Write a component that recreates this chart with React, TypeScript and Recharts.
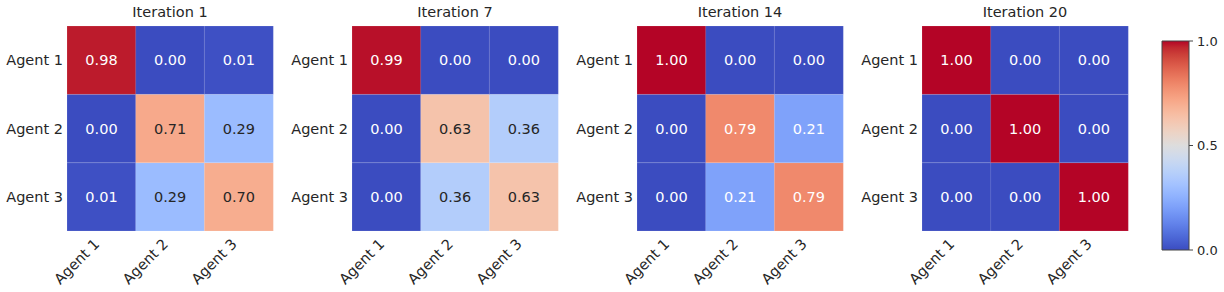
import { Bar, BarChart, Cell, LabelList, XAxis, YAxis } from "recharts";

const AGENTS = ["Agent 1", "Agent 2", "Agent 3"];
const ITERATIONS = ["Iteration 1", "Iteration 7", "Iteration 14", "Iteration 20"];

// rows = agent i, cols = agent j
const ITER_1 = [
  [0.98, 0.0, 0.01],
  [0.0, 0.71, 0.29],
  [0.01, 0.29, 0.7],
];
const ITER_7 = [
  [0.99, 0.0, 0.0],
  [0.0, 0.63, 0.36],
  [0.0, 0.36, 0.63],
];
const ITER_14 = [
  [1.0, 0.0, 0.0],
  [0.0, 0.79, 0.21],
  [0.0, 0.21, 0.79],
];
const ITER_20 = [
  [1.0, 0.0, 0.0],
  [0.0, 1.0, 0.0],
  [0.0, 0.0, 1.0],
];
const MATRICES = [ITER_1, ITER_7, ITER_14, ITER_20];
const CBAR_TICKS = [0, 0.5, 1];

// matplotlib coolwarm, 33 samples
const COOLWARM = [
  [59, 76, 192], [68, 90, 204], [77, 104, 215], [87, 117, 225], [98, 130, 234],
  [108, 142, 241], [119, 154, 247], [130, 165, 251], [141, 176, 254], [152, 185, 255],
  [163, 194, 255], [174, 201, 253], [184, 208, 249], [194, 213, 244], [204, 217, 238],
  [213, 219, 230], [221, 221, 221], [229, 216, 209], [236, 211, 197], [241, 204, 185],
  [245, 196, 173], [247, 187, 160], [247, 177, 148], [247, 166, 135], [244, 154, 123],
  [241, 141, 111], [236, 127, 99], [229, 112, 88], [222, 96, 77], [213, 80, 66],
  [203, 62, 56], [192, 40, 47], [180, 4, 38],
];

const TEXT = "#262626";
const FONT = "'DejaVu Sans', sans-serif";

function rgbAt(v: number) {
  const t = Math.max(0, Math.min(1, v)) * (COOLWARM.length - 1);
  const i = Math.min(COOLWARM.length - 2, Math.floor(t));
  const f = t - i;
  return COOLWARM[i].map((c, k) => c + (COOLWARM[i + 1][k] - c) * f);
}

function color(v: number) {
  const [r, g, b] = rgbAt(v).map(Math.round);
  return `rgb(${r},${g},${b})`;
}

function textColor(v: number) {
  const lin = rgbAt(v).map((c) => {
    const s = c / 255;
    return s <= 0.03928 ? s / 12.92 : Math.pow((s + 0.055) / 1.055, 2.4);
  });
  const lum = 0.2126 * lin[0] + 0.7152 * lin[1] + 0.0722 * lin[2];
  return lum > 0.408 ? TEXT : "#fff";
}

function XTick({ x, y, payload }: any) {
  return (
    <text
      x={x - 1}
      y={y + 6}
      transform={`rotate(-45 ${x - 1} ${y + 6})`}
      textAnchor="end"
      fontSize={14.5}
      fontFamily={FONT}
      fill={TEXT}
    >
      {payload.value}
    </text>
  );
}

function Heatmap({ title, matrix, left }: { title: string; matrix: number[][]; left: number }) {
  const data = AGENTS.map((a, j) => ({
    col: a,
    r1: 1,
    r2: 1,
    r3: 1,
    v1: matrix[0][j],
    v2: matrix[1][j],
    v3: matrix[2][j],
  }));
  // stacked bottom-up: Agent 3 row first
  const rows = [3, 2, 1];
  return (
    <div style={{ position: "absolute", left, top: 0, width: 285, height: 292 }}>
      <div
        style={{
          position: "absolute",
          left: 67,
          width: 206,
          top: 3,
          lineHeight: "18px",
          textAlign: "center",
          fontSize: 14.5,
          fontFamily: FONT,
          color: TEXT,
        }}
      >
        {title}
      </div>
      <BarChart
        width={285}
        height={292}
        data={data}
        margin={{ top: 26, right: 12, bottom: 0, left: 7 }}
        barCategoryGap={0}
        barGap={0}
      >
        <XAxis
          dataKey="col"
          axisLine={false}
          tickLine={false}
          height={61}
          interval={0}
          tick={<XTick />}
        />
        <YAxis
          type="number"
          domain={[0, 3]}
          ticks={[0.5, 1.5, 2.5]}
          tickFormatter={(v) => AGENTS[2 - Math.floor(v)]}
          axisLine={false}
          tickLine={false}
          tickSize={0}
          tickMargin={4}
          width={60}
          tick={{ fontSize: 14.5, fontFamily: FONT, fill: TEXT }}
        />
        {rows.map((r) => (
          <Bar
            key={r}
            dataKey={`r${r}`}
            stackId="m"
            stroke="#fff"
            strokeWidth={0.5}
            strokeOpacity={0.25}
            isAnimationActive={false}
          >
            {data.map((d: any, i) => (
              <Cell key={i} fill={color(d[`v${r}`])} />
            ))}
            <LabelList
              dataKey={`v${r}`}
              content={(p: any) => (
                <text
                  x={p.x + p.width / 2}
                  y={p.y + p.height / 2}
                  dy="0.36em"
                  textAnchor="middle"
                  fontSize={14.5}
                  fontFamily={FONT}
                  fill={textColor(Number(p.value))}
                >
                  {Number(p.value).toFixed(2)}
                </text>
              )}
            />
          </Bar>
        ))}
      </BarChart>
    </div>
  );
}

function ColorBar() {
  const data = [{ k: "cbar", v: 1 }];
  return (
    <div style={{ position: "absolute", left: 1140, top: 0 }}>
      <BarChart
        width={84}
        height={292}
        data={data}
        margin={{ top: 41, right: 0, bottom: 42, left: 22 }}
        barCategoryGap={0}
      >
        <XAxis dataKey="k" hide />
        <YAxis
          orientation="right"
          type="number"
          domain={[0, 1]}
          ticks={CBAR_TICKS}
          tickFormatter={(v) => Number(v).toFixed(1)}
          axisLine={false}
          tickLine={{ stroke: "#444" }}
          tickSize={4}
          tickMargin={4}
          width={35}
          tick={{ fontSize: 13, fontFamily: FONT, fill: TEXT }}
        />
        <Bar dataKey="v" fill="url(#coolwarm)" stroke="#444" strokeWidth={1} isAnimationActive={false} />
      </BarChart>
    </div>
  );
}

export default function App() {
  return (
    <div
      style={{
        position: "absolute",
        left: 0,
        top: 0,
        width: 1224,
        height: 292,
        background: "#fff",
        overflow: "hidden",
      }}
    >
      <svg width={0} height={0} style={{ position: "absolute" }}>
        <defs>
          <linearGradient id="coolwarm" x1="0" y1="1" x2="0" y2="0">
            {COOLWARM.map((c, i) => (
              <stop
                key={i}
                offset={i / (COOLWARM.length - 1)}
                stopColor={`rgb(${c[0]},${c[1]},${c[2]})`}
              />
            ))}
          </linearGradient>
        </defs>
      </svg>
      {MATRICES.map((m, i) => (
        <Heatmap key={i} title={ITERATIONS[i]} matrix={m} left={285 * i} />
      ))}
      <ColorBar />
    </div>
  );
}
